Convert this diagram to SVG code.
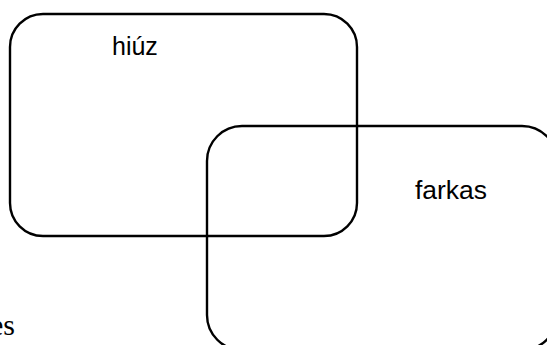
<svg xmlns="http://www.w3.org/2000/svg" width="547" height="345" viewBox="0 0 547 345">
<style>
.box{fill:none;stroke:#000;stroke-width:2.4}
.lbl{font-family:"Liberation Sans",Arial,sans-serif;font-size:25px;fill:#000}
.cap{font-family:"Liberation Serif","Times New Roman",serif;font-size:30px;fill:#000}
</style>
<rect width="547" height="345" fill="#fff"/>
<g id="connectors"></g>
<g id="hiuz">
<rect class="box" x="10" y="14" width="347" height="222" rx="33" ry="33"/>
<text class="lbl" x="112" y="55">hiúz</text>
</g>
<g id="farkas">
<rect class="box" x="207" y="126" width="350" height="224" rx="35" ry="35"/>
<text class="lbl" x="415" y="199" textLength="72" lengthAdjust="spacingAndGlyphs">farkas</text>
</g>
<text class="cap" x="-10" y="335">es</text>
</svg>
